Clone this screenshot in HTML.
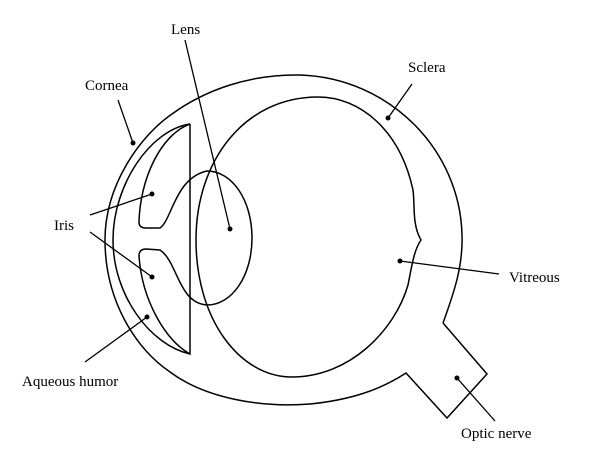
<!DOCTYPE html>
<html><head><style>body{margin:0;background:#fff}svg{display:block}text{font-family:"Liberation Serif",serif;font-size:15px;fill:#000}</style></head><body>
<svg width="600" height="465" viewBox="0 0 600 465" xmlns="http://www.w3.org/2000/svg">
<g fill="none" stroke="#000" stroke-width="1.5">
<path d="M443,323 C455,290 463,265 462,235 C460,150 390,78 300,75 C250,74 205,90 172,114 C140,136 105,185 105,240 C105,300 135,348 170,372 C205,398 260,408 310,404 C350,400 380,390 406,373 L447,418 L487,374 L443,323"/>
<path d="M421,240 C412,225 415,205 413,190 C400,130 360,97 318,97 C245,97 196,160 196,240 C196,320 240,377 292,377 C350,377 395,330 408,285 C412,265 414,250 421,240 Z"/>
<path d="M190,124 L190,354 C150,345 113,295 113,240 C113,185 150,130 190,124"/>
<path d="M190,124 C160,135 140,180 139,222 Q139,228 146,228 L160,228 C172,220 175,178 207,171 C232,171 252,200 252,238 C252,276 232,305 207,305 C178,303 178,262 160,250 L146,249 Q139,249 139,256 C142,300 165,340 190,354"/>
<path d="M185,40 L230,229 M412,84 L388,118 M118,100 L133,143 M90,215 L152,194 M90,232 L152,277 M85,362 L147,317 M499,274 L400,261 M495,421 L457,378" stroke-width="1.3"/>
</g>
<g fill="#000">
<circle cx="230" cy="229" r="2.5"/><circle cx="388" cy="118" r="2.5"/><circle cx="133" cy="143" r="2.5"/>
<circle cx="152" cy="194" r="2.5"/><circle cx="152" cy="277" r="2.5"/><circle cx="147" cy="317" r="2.5"/>
<circle cx="400" cy="261" r="2.5"/><circle cx="457" cy="378" r="2.5"/>
</g>
<text x="171" y="34">Lens</text>
<text x="408" y="72">Sclera</text>
<text x="85" y="90">Cornea</text>
<text x="54" y="230">Iris</text>
<text x="22" y="386">Aqueous humor</text>
<text x="509" y="282">Vitreous</text>
<text x="461" y="438">Optic nerve</text>
</svg>
</body></html>
